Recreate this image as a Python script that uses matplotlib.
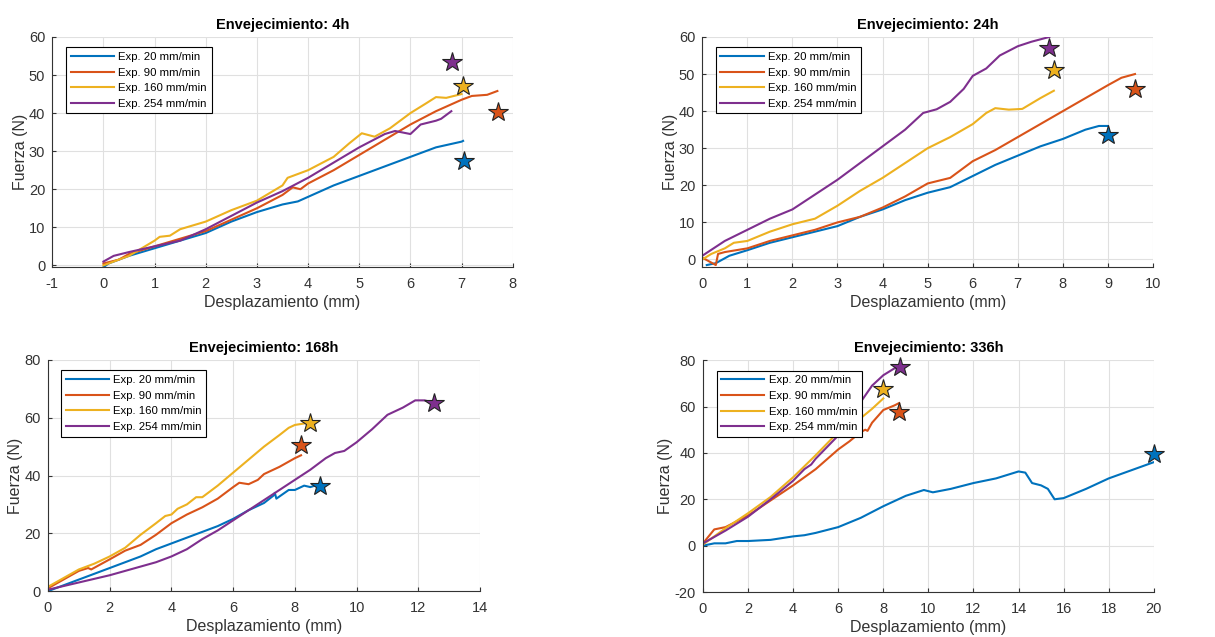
import matplotlib.pyplot as plt

plt.rcParams['font.family'] = ['Liberation Sans', 'DejaVu Sans']
plt.rcParams['axes.unicode_minus'] = False

C_BLUE = '#0072BD'
C_ORANGE = '#D95319'
C_YELLOW = '#EDB120'
C_PURPLE = '#7E2F8E'

labels = ['Exp. 20 mm/min', 'Exp. 90 mm/min', 'Exp. 160 mm/min', 'Exp. 254 mm/min']

# --- Envejecimiento 4h ---
h4_x20 = [0, 0.1, 0.3, 0.5, 1, 1.5, 2, 2.5, 3, 3.5, 3.8, 4, 4.5, 5, 5.5, 6, 6.2, 6.5, 7, 7.03]
h4_y20 = [-0.5, 0.5, 1.5, 2.5, 4.5, 6.5, 8.5, 11.5, 14, 16, 16.8, 18, 21, 23.5, 26, 28.5, 29.5, 31, 32.5, 32.7]
h4_x90 = [0, 0.3, 0.5, 1, 1.5, 2, 2.5, 3, 3.5, 3.7, 3.85, 4, 4.5, 5, 5.5, 6, 6.5, 7, 7.2, 7.5, 7.7]
h4_y90 = [0.5, 1.5, 3, 5, 7, 9, 12, 15, 18.5, 20.5, 20, 21.5, 25, 29, 33, 37, 40.5, 43.5, 44.5, 44.8, 45.8]
h4_x160 = [0, 0.3, 0.5, 1, 1.1, 1.3, 1.5, 2, 2.5, 2.8, 3, 3.5, 3.6, 4, 4.5, 4.8, 5.05, 5.3, 5.6, 6, 6.3, 6.5, 6.7, 7]
h4_y160 = [0, 1.5, 2.5, 6.5, 7.5, 7.8, 9.5, 11.5, 14.5, 16, 17, 21, 23, 25, 28.5, 32, 34.7, 33.8, 36, 40, 42.5, 44.2, 44, 45]
h4_x254 = [0, 0.2, 0.5, 1, 1.5, 2, 2.5, 3, 3.5, 4, 4.5, 5, 5.5, 5.7, 6, 6.2, 6.5, 6.6, 6.8]
h4_y254 = [1, 2.5, 3.5, 5, 6.5, 9.5, 13, 16.5, 19.5, 23, 27, 31, 34.5, 35.3, 34.5, 37, 38, 38.5, 40.5]
h4_star_x = [7.05, 7.72, 7.03, 6.82]
h4_star_y = [27.5, 40.3, 47, 53.5]

# --- Envejecimiento 24h ---
h24_x20 = [0.1, 0.3, 0.6, 1, 1.5, 2, 2.5, 3, 3.5, 4, 4.5, 5, 5.5, 6, 6.5, 7, 7.5, 8, 8.5, 8.8, 9]
h24_y20 = [-1.5, -1, 1, 2.5, 4.5, 6, 7.5, 9, 11.5, 13.5, 16, 18, 19.5, 22.5, 25.5, 28, 30.5, 32.5, 35, 36, 36]
h24_x90 = [0, 0.3, 0.35, 0.5, 1, 1.5, 2, 2.5, 3, 3.5, 4, 4.5, 5, 5.5, 6, 6.5, 7, 7.5, 8, 8.5, 9, 9.3, 9.6]
h24_y90 = [0.5, -1.5, 1.5, 2, 3, 5, 6.5, 8, 10, 11.5, 14, 17, 20.5, 22, 26.5, 29.5, 33, 36.5, 40, 43.5, 47, 49, 50]
h24_x160 = [0, 0.2, 0.5, 0.7, 1, 1.5, 2, 2.5, 3, 3.5, 4, 4.5, 5, 5.5, 6, 6.3, 6.5, 6.8, 7.1, 7.5, 7.8]
h24_y160 = [0, 1.5, 3, 4.5, 5, 7.5, 9.5, 11, 14.5, 18.5, 22, 26, 30, 33, 36.5, 39.5, 40.8, 40.4, 40.6, 43.5, 45.5]
h24_x254 = [0, 0.5, 1, 1.5, 2, 2.5, 3, 3.5, 4, 4.5, 4.9, 5.2, 5.5, 5.8, 6, 6.3, 6.6, 7, 7.3, 7.7]
h24_y254 = [1, 5, 8, 11, 13.5, 17.5, 21.5, 26, 30.5, 35, 39.5, 40.5, 42.5, 46, 49.5, 51.5, 55, 57.5, 58.7, 60]
h24_star_x = [9.0, 9.6, 7.8, 7.7]
h24_star_y = [33.5, 46, 51, 57]

# --- Envejecimiento 168h ---
h168_x20 = [0, 0.5, 1, 1.5, 2, 2.5, 3, 3.5, 4, 4.5, 5, 5.5, 6, 6.5, 7, 7.3, 7.35, 7.4, 7.8, 8, 8.3, 8.5, 8.8]
h168_y20 = [0, 2, 4, 6, 8, 10, 12, 14.5, 16.5, 18.5, 20.5, 22.5, 25, 28, 30.5, 33, 34, 32, 35, 35, 36.5, 36, 37]
h168_x90 = [0, 0.5, 1, 1.3, 1.4, 2, 2.5, 3, 3.5, 4, 4.5, 5, 5.5, 6, 6.2, 6.5, 6.8, 7, 7.5, 8, 8.2]
h168_y90 = [1, 4, 7, 8, 7.5, 11, 14, 16, 19.5, 23.5, 26.5, 29, 32, 36, 37.5, 37, 38.5, 40.5, 43, 46, 47]
h168_x160 = [0, 0.5, 1, 1.5, 2, 2.5, 3, 3.5, 3.8, 4, 4.2, 4.5, 4.8, 5, 5.5, 6, 6.5, 7, 7.5, 7.8, 8, 8.3]
h168_y160 = [1.5, 4.5, 7.5, 9.5, 12, 15, 19.5, 23.5, 26, 26.5, 28.5, 30, 32.5, 32.5, 36.5, 41, 45.5, 50, 54, 56.5, 57.5, 58]
h168_x254 = [0, 1, 2, 3, 3.5, 4, 4.5, 5, 5.5, 6, 6.5, 7, 7.5, 8, 8.5, 9, 9.3, 9.6, 10, 10.5, 11, 11.5, 11.9, 12.2, 12.4]
h168_y254 = [0.5, 3, 5.5, 8.5, 10, 12, 14.5, 18, 21, 24.5, 28, 31.5, 35, 38.5, 42, 46, 47.8, 48.5, 51.5, 56, 61, 63.5, 66, 66, 65.5]
h168_star_x = [8.8, 8.2, 8.5, 12.5]
h168_star_y = [36.5, 50.5, 58, 65]

# --- Envejecimiento 336h ---
h336_x20 = [0, 0.5, 1, 1.5, 2, 3, 4, 4.5, 5, 6, 7, 8, 9, 9.8, 10.2, 11, 12, 13, 14, 14.3, 14.6, 15, 15.3, 15.6, 16, 17, 18, 19, 20]
h336_y20 = [0, 1, 1, 2, 2, 2.5, 4, 4.5, 5.5, 8, 12, 17, 21.5, 24, 23, 24.5, 27, 29, 32, 31.5, 27, 26, 24.5, 20, 20.5, 24.5, 29, 32.5, 36]
h336_x90 = [0, 0.5, 1, 2, 3, 4, 5, 6, 6.5, 7, 7.2, 7.3, 7.5, 8, 8.5, 8.7]
h336_y90 = [1, 7, 8, 13, 19.5, 26, 33, 41.5, 45, 49, 50, 49.5, 53, 58.5, 60.5, 61.5]
h336_x160 = [0, 1, 2, 3, 4, 5, 5.5, 6, 6.5, 6.8, 7, 7.5, 8]
h336_y160 = [0.5, 7.5, 14, 21, 29.5, 39, 44, 49, 52, 51.5, 55, 59, 63.5]
h336_x254 = [0, 1, 2, 3, 4, 4.5, 4.8, 5, 5.5, 6, 6.5, 7, 7.5, 8, 8.5, 8.7]
h336_y254 = [1, 6.5, 12.5, 20, 28, 33, 35, 37.5, 42.5, 47.5, 54, 62, 69, 73.5, 76.5, 77]
h336_star_x = [20, 8.7, 8.0, 8.75]
h336_star_y = [39.5, 57.5, 67.5, 77]

colors = [C_BLUE, C_ORANGE, C_YELLOW, C_PURPLE]

panels = [
    ('Envejecimiento: 4h', [0.043, 0.581, 0.379, 0.361],
     [(h4_x20, h4_y20), (h4_x90, h4_y90), (h4_x160, h4_y160), (h4_x254, h4_y254)],
     h4_star_x, h4_star_y, (-1, 8), (-0.4, 60), range(-1, 9), range(0, 61, 10)),
    ('Envejecimiento: 24h', [0.578, 0.581, 0.371, 0.361],
     [(h24_x20, h24_y20), (h24_x90, h24_y90), (h24_x160, h24_y160), (h24_x254, h24_y254)],
     h24_star_x, h24_star_y, (0, 10), (-2, 60), range(0, 11), range(0, 61, 10)),
    ('Envejecimiento: 168h', [0.0395, 0.072, 0.3556, 0.363],
     [(h168_x20, h168_y20), (h168_x90, h168_y90), (h168_x160, h168_y160), (h168_x254, h168_y254)],
     h168_star_x, h168_star_y, (0, 14), (0, 80), range(0, 15, 2), range(0, 81, 20)),
    ('Envejecimiento: 336h', [0.5786, 0.0706, 0.371, 0.364],
     [(h336_x20, h336_y20), (h336_x90, h336_y90), (h336_x160, h336_y160), (h336_x254, h336_y254)],
     h336_star_x, h336_star_y, (0, 20), (-20, 80), range(0, 21, 2), range(-20, 81, 20)),
]

fig = plt.figure(figsize=(12.15, 6.37), dpi=100)

for title, rect, series, sx, sy, xl, yl, xt, yt in panels:
    ax = fig.add_axes(rect)
    for (x, y), c, lab in zip(series, colors, labels):
        ax.plot(x, y, color=c, linewidth=1.5, label=lab)
    for i, c in enumerate(colors):
        ax.plot(sx[i], sy[i], marker='*', markersize=15, color=c,
                markeredgecolor='#222222', markeredgewidth=0.8,
                linestyle='none', clip_on=False, zorder=5)
    ax.set_xlim(*xl)
    ax.set_ylim(*yl)
    ax.set_xticks(list(xt))
    ax.set_yticks(list(yt))
    ax.grid(True, color='#e0e0e0', linewidth=0.8)
    ax.set_axisbelow(True)
    for s in ['top', 'right']:
        ax.spines[s].set_visible(False)
    for s in ['left', 'bottom']:
        ax.spines[s].set_color('#333333')
    ax.tick_params(direction='in', length=3, labelsize=10.5, colors='#333333')
    ax.tick_params(axis='x', pad=7)
    ax.tick_params(axis='y', pad=5)
    ax.set_title(title, fontsize=10.5, fontweight='bold', pad=6)
    ax.set_xlabel('Desplazamiento (mm)', fontsize=11.5, color='#333333', labelpad=3)
    ax.set_ylabel('Fuerza (N)', fontsize=11.5, color='#333333', labelpad=1)
    leg = ax.legend(loc='upper left', fontsize=8.2, frameon=True, fancybox=False,
                    edgecolor='black', framealpha=1, borderpad=0.4, handlelength=3.8,
                    handletextpad=0.4, labelspacing=0.5, borderaxespad=0,
                    bbox_to_anchor=(0.03, 0.955))
    leg.get_frame().set_linewidth(0.8)
    leg.set_zorder(10)

fig.savefig('out.png', dpi=100)
